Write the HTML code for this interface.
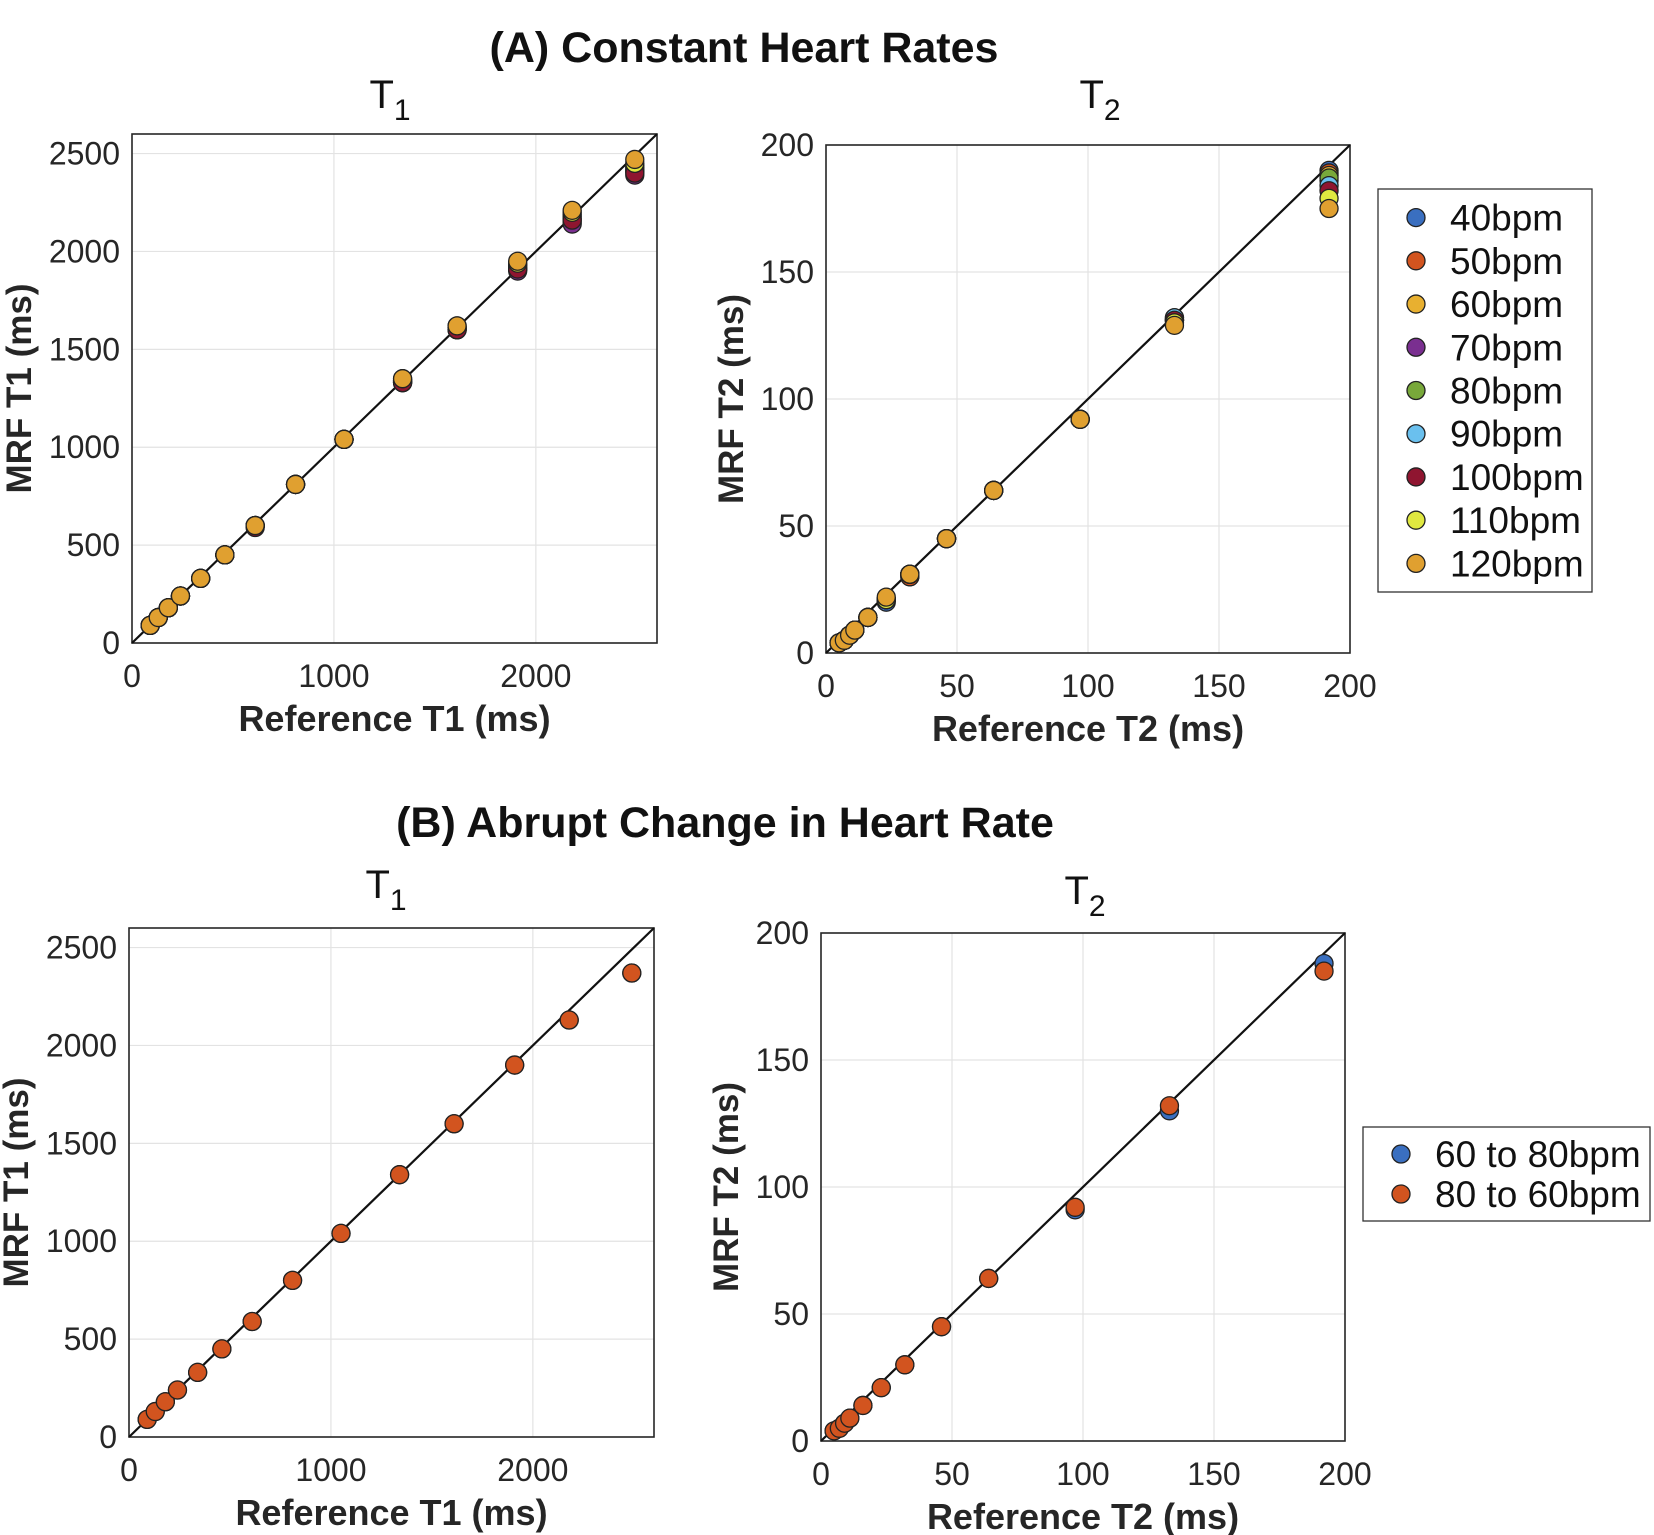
<!DOCTYPE html>
<html><head><meta charset="utf-8"><style>
html,body{margin:0;padding:0;background:#fff;}
svg{display:block;font-family:"Liberation Sans",Arial,sans-serif;}
</style></head><body>
<svg id="fig" width="1654" height="1535" viewBox="0 0 1654 1535" xmlns="http://www.w3.org/2000/svg">
<text x="744" y="62" text-anchor="middle" font-size="43" font-weight="bold" fill="#111">(A) Constant Heart Rates</text>
<text x="725" y="837" text-anchor="middle" font-size="43" font-weight="bold" fill="#111">(B) Abrupt Change in Heart Rate</text>
<text x="390" y="108" text-anchor="middle" font-size="40" fill="#111">T<tspan font-size="30" dy="12">1</tspan></text>
<text x="1100" y="108" text-anchor="middle" font-size="40" fill="#111">T<tspan font-size="30" dy="12">2</tspan></text>
<text x="386" y="898" text-anchor="middle" font-size="40" fill="#111">T<tspan font-size="30" dy="12">1</tspan></text>
<text x="1085" y="904" text-anchor="middle" font-size="40" fill="#111">T<tspan font-size="30" dy="12">2</tspan></text>
</svg>
<script>
// ---- data ----
const refT1 = [90,130,180,240,340,460,610,810,1050,1340,1610,1910,2180,2490];
const refT2 = [5,7,9,11,16,23,32,46,64,97,133,192];
const hrLabels = ["40bpm","50bpm","60bpm","70bpm","80bpm","90bpm","100bpm","110bpm","120bpm"];
const hrColors = ["#3a6fc0","#d2541f","#e8b030","#7a2f90","#78a83a","#6ac0ee","#8f1530","#e0e840","#e0a030"];
const aT1_40  = [90,130,180,240,330,450,600,810,1040,1330,1600,1910,2150,2420];
const aT1_50  = [90,130,180,240,330,450,600,810,1040,1330,1600,1910,2160,2410];
const aT1_60  = [90,130,180,240,330,450,600,810,1040,1340,1610,1920,2170,2440];
const aT1_70  = [90,130,180,240,330,450,600,810,1040,1330,1600,1900,2140,2390];
const aT1_80  = [90,130,180,240,330,450,600,810,1040,1340,1610,1930,2180,2410];
const aT1_90  = [90,130,180,240,330,450,600,810,1040,1340,1610,1930,2190,2430];
const aT1_100 = [90,130,180,240,330,450,590,810,1040,1330,1600,1910,2160,2400];
const aT1_110 = [90,130,180,240,330,450,600,810,1040,1350,1620,1940,2200,2450];
const aT1_120 = [90,130,180,240,330,450,600,810,1040,1350,1620,1950,2210,2470];
const aT2_40  = [4,5,7,9,14,20,30,45,64,92,132,190];
const aT2_50  = [4,5,7,9,14,21,30,45,64,92,131,189];
const aT2_60  = [4,5,7,9,14,21,31,45,64,92,131,188];
const aT2_70  = [4,5,7,9,14,21,31,45,64,92,131,186];
const aT2_80  = [4,5,7,9,14,21,31,45,64,92,131,187];
const aT2_90  = [4,5,7,9,14,21,31,45,64,92,132,184];
const aT2_100 = [4,5,7,9,14,21,31,45,64,92,131,182];
const aT2_110 = [4,5,7,9,14,21,31,45,64,92,130,179];
const aT2_120 = [4,5,7,9,14,22,31,45,64,92,129,175];
const bLabels = ["60 to 80bpm","80 to 60bpm"];
const bColors = ["#3a6fc0","#d2541f"];
const bT1_6080 = [90,130,180,240,330,450,590,800,1040,1340,1600,1900,2130,2370];
const bT1_8060 = [90,130,180,240,330,450,590,800,1040,1340,1600,1900,2130,2370];
const bT2_6080 = [4,5,7,9,14,21,30,45,64,91,130,188];
const bT2_8060 = [4,5,7,9,14,21,30,45,64,92,132,185];
const t1Ticks = [0,1000,2000];
const t1YTicks = [0,500,1000,1500,2000,2500];
const t2Ticks = [0,50,100,150,200];

const NS = "http://www.w3.org/2000/svg";
const svg = document.getElementById('fig');
function el(tag, attrs, parent){
  const e = document.createElementNS(NS, tag);
  for (const k in attrs) e.setAttribute(k, attrs[k]);
  (parent||svg).appendChild(e); return e;
}
function panel(id, box, max, xTicks, yTicks, xLabel, yLabel, ylx, series){
  const g = el('g', {});
  
  
  const sx = v => box.x0 + (v/max)*(box.x1-box.x0);
  const sy = v => box.y1 - (v/max)*(box.y1-box.y0);
  el('rect',{x:box.x0,y:box.y0,width:box.x1-box.x0,height:box.y1-box.y0,fill:'#fff'},g);
  xTicks.forEach(t=>{
    const l = el('line',{x1:sx(t),x2:sx(t),y1:box.y0,y2:box.y1,stroke:'#e3e3e3','stroke-width':1.2},g);
    
    
    const tx = el('text',{x:sx(t),y:box.y1+44,'text-anchor':'middle','font-size':32,fill:'#262626'},g);
    
    
    tx.textContent = t;
  });
  yTicks.forEach(t=>{
    const l = el('line',{x1:box.x0,x2:box.x1,y1:sy(t),y2:sy(t),stroke:'#e3e3e3','stroke-width':1.2},g);
    
    
    const tx = el('text',{x:box.x0-12,y:sy(t)+11,'text-anchor':'end','font-size':32,fill:'#262626'},g);
    
    
    tx.textContent = t;
  });
  const r = el('rect',{x:box.x0,y:box.y0,width:box.x1-box.x0,height:box.y1-box.y0,fill:'none',stroke:'#262626','stroke-width':1.6},g);
  
  
  const d = el('line',{x1:sx(0),y1:sy(0),x2:sx(max),y2:sy(max),stroke:'#111','stroke-width':2.2},g);
  
  
  series.forEach(s=>{
    s.ref.forEach((rv,i)=>{
      const c = el('circle',{cx:sx(rv),cy:sy(s.vals[i]),r:9,fill:s.color,stroke:'#222','stroke-width':1.3},g);
      
      
    });
  });
  const xl = el('text',{x:(box.x0+box.x1)/2,y:box.y1+88,'text-anchor':'middle','font-size':36,'font-weight':'bold',fill:'#262626'},g);
  
  
  xl.textContent = xLabel;
  const cy = (box.y0+box.y1)/2;
  const yl = el('text',{x:ylx,y:cy,'text-anchor':'middle','font-size':35,'font-weight':'bold',fill:'#262626',transform:`rotate(-90 ${ylx} ${cy})`},g);
  
  
  yl.textContent = yLabel;
}
function legend(id, box, labels, colors){
  const g = el('g',{});
  
  
  el('rect',{x:box.x,y:box.y,width:box.w,height:box.h,fill:'#fff',stroke:'#333','stroke-width':1.3},g);
  const step = (box.h-14)/labels.length;
  labels.forEach((lb,i)=>{
    const cy = box.y+7+step*(i+0.5);
    const c = el('circle',{cx:box.x+38,cy:cy,r:9,fill:colors[i],stroke:'#222','stroke-width':1.3},g);
    
    
    const t = el('text',{x:box.x+72,y:cy+13,'font-size':37,fill:'#111'},g);
    
    
    t.textContent = lb;
  });
}
const aT1 = [aT1_40,aT1_50,aT1_60,aT1_70,aT1_80,aT1_90,aT1_100,aT1_110,aT1_120];
const aT2 = [aT2_40,aT2_50,aT2_60,aT2_70,aT2_80,aT2_90,aT2_100,aT2_110,aT2_120];
panel('panel-a-t1',{x0:132,x1:657,y0:134,y1:643},2600,t1Ticks,t1YTicks,'Reference T1 (ms)','MRF T1 (ms)',31,
  aT1.map((v,i)=>({ref:refT1,vals:v,color:hrColors[i],name:hrLabels[i]})));
panel('panel-a-t2',{x0:826,x1:1350,y0:145,y1:653},200,t2Ticks,t2Ticks,'Reference T2 (ms)','MRF T2 (ms)',743,
  aT2.map((v,i)=>({ref:refT2,vals:v,color:hrColors[i],name:hrLabels[i]})));
legend('legend-a',{x:1378,y:189,w:214,h:403},hrLabels,hrColors);
panel('panel-b-t1',{x0:129,x1:654,y0:928,y1:1437},2600,t1Ticks,t1YTicks,'Reference T1 (ms)','MRF T1 (ms)',28,
  [{ref:refT1,vals:bT1_6080,color:bColors[0],name:bLabels[0]},{ref:refT1,vals:bT1_8060,color:bColors[1],name:bLabels[1]}]);
panel('panel-b-t2',{x0:821,x1:1345,y0:933,y1:1441},200,t2Ticks,t2Ticks,'Reference T2 (ms)','MRF T2 (ms)',738,
  [{ref:refT2,vals:bT2_6080,color:bColors[0],name:bLabels[0]},{ref:refT2,vals:bT2_8060,color:bColors[1],name:bLabels[1]}]);
legend('legend-b',{x:1363,y:1127,w:287,h:94},bLabels,bColors);
</script>
</body></html>
